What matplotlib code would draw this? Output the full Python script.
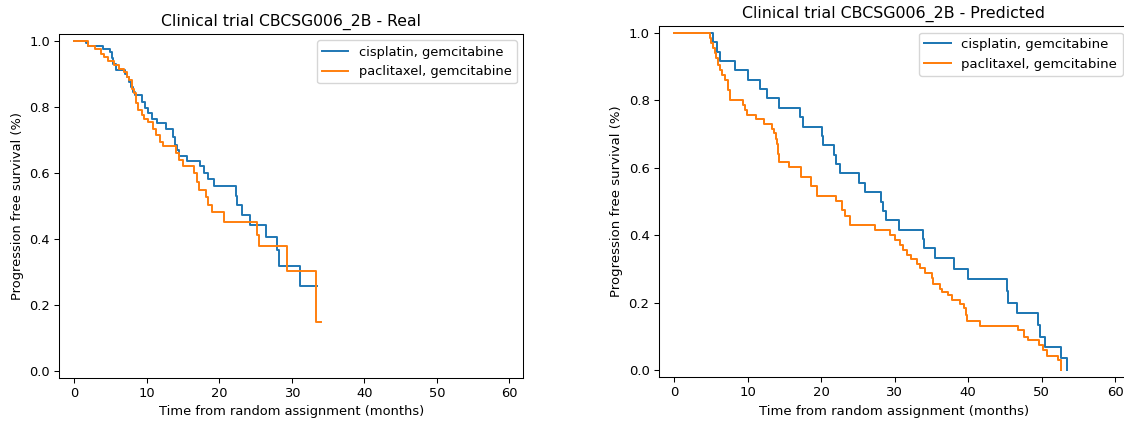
import matplotlib
matplotlib.use("Agg")
import matplotlib.pyplot as plt

# ---- data ----
labels = ["cisplatin, gemcitabine", "paclitaxel, gemcitabine"]
titles = ["Clinical trial CBCSG006_2B - Real", "Clinical trial CBCSG006_2B - Predicted"]
xticks = [0, 10, 20, 30, 40, 50, 60]
yticks = [0.0, 0.2, 0.4, 0.6, 0.8, 1.0]

real_cis_t = [0, 1.6, 1.9, 4.0, 4.9, 5.2, 5.4, 5.8, 7.0, 7.3, 7.6, 7.8, 8.1, 8.4, 9.3, 9.75,
              10.2, 10.7, 11.4, 12.7, 13.65, 13.9, 14.1, 14.5, 15.5, 17.3, 17.9, 18.4, 19.2,
              22.3, 22.45, 23.1, 24.2, 26.5, 27.9, 28.3, 31.1, 33.5]
real_cis_s = [1.0, 0.992, 0.985, 0.976, 0.966, 0.946, 0.93, 0.912, 0.9, 0.89, 0.875, 0.86, 0.845,
              0.835, 0.815, 0.795, 0.78, 0.764, 0.751, 0.734, 0.709, 0.684, 0.669, 0.65, 0.636,
              0.62, 0.60, 0.58, 0.56, 0.53, 0.502, 0.472, 0.442, 0.405, 0.366, 0.318, 0.256, 0.256]

real_pac_t = [0, 1.9, 2.9, 3.7, 4.15, 4.6, 5.5, 6.1, 6.9, 7.2, 7.5, 8.0, 8.2, 8.5, 8.85, 9.35,
              9.6, 10.2, 10.8, 11.3, 11.8, 12.3, 14.0, 14.5, 15.0, 16.5, 16.9, 17.25, 18.2, 18.5,
              19.0, 20.6, 25.2, 25.45, 29.4, 33.3, 34.0]
real_pac_s = [1.0, 0.985, 0.976, 0.96, 0.949, 0.937, 0.925, 0.915, 0.905, 0.89, 0.88, 0.855, 0.84,
              0.81, 0.79, 0.774, 0.764, 0.754, 0.734, 0.714, 0.694, 0.681, 0.661, 0.638, 0.621,
              0.598, 0.573, 0.548, 0.528, 0.503, 0.482, 0.452, 0.412, 0.379, 0.304, 0.15, 0.15]

pred_cis_t = [0, 5.3, 5.8, 6.25, 8.3, 10.1, 11.7, 12.6, 14.35, 17.1, 17.5, 20.1, 20.3, 21.7,
              22.1, 22.6, 25.2, 25.95, 28.2, 28.4, 28.9, 30.55, 33.9, 34.0, 35.5, 38.1, 40.0,
              45.3, 45.5, 46.6, 49.5, 49.8, 50.5, 52.7, 53.5]
pred_cis_s = [1.0, 0.972, 0.944, 0.917, 0.889, 0.861, 0.833, 0.806, 0.778, 0.75, 0.722, 0.694,
              0.667, 0.639, 0.611, 0.583, 0.556, 0.528, 0.5, 0.472, 0.444, 0.417, 0.389, 0.361,
              0.334, 0.301, 0.269, 0.236, 0.2, 0.17, 0.135, 0.1, 0.069, 0.035, 0.0]

pred_pac_t = [0, 4.9, 5.1, 5.3, 5.6, 5.75, 6.0, 6.3, 6.5, 7.0, 7.3, 7.4, 7.6, 9.4, 9.7, 9.9,
              11.1, 12.2, 13.3, 13.6, 13.9, 14.0, 14.1, 14.2, 14.3, 15.7, 17.3, 18.7, 19.4,
              22.1, 22.8, 23.2, 23.9, 27.3, 29.4, 30.1, 30.7, 31.2, 31.7, 32.3, 33.0, 33.5,
              34.1, 35.1, 35.3, 36.2, 36.4, 37.3, 37.8, 38.9, 39.4, 39.7, 39.9, 41.6, 46.8,
              47.6, 48.2, 49.7, 50.2, 50.7, 52.3, 52.7]
pred_pac_s = [1.0, 0.985, 0.97, 0.955, 0.94, 0.925, 0.905, 0.89, 0.875, 0.86, 0.845, 0.83,
              0.801, 0.786, 0.771, 0.757, 0.744, 0.731, 0.716, 0.702, 0.686, 0.67, 0.655, 0.64,
              0.616, 0.601, 0.573, 0.545, 0.516, 0.502, 0.474, 0.456, 0.43, 0.417, 0.4, 0.385,
              0.37, 0.356, 0.341, 0.331, 0.316, 0.302, 0.287, 0.272, 0.257, 0.242, 0.232, 0.222,
              0.207, 0.195, 0.183, 0.163, 0.146, 0.13, 0.119, 0.1, 0.089, 0.075, 0.059, 0.042,
              0.03, 0.0]

panels = [
    (titles[0], [(real_cis_t, real_cis_s), (real_pac_t, real_pac_s)]),
    (titles[1], [(pred_cis_t, pred_cis_s), (pred_pac_t, pred_pac_s)]),
]

W, H = 1124, 421
fig = plt.figure(figsize=(W / 100, H / 100), dpi=100)
# axes rectangles in pixels: left, bottom(from top), right, top
rects = [(59.3, 377.7, 523.3, 34.0), (658.8, 377.0, 1129.2, 26.0)]
scales = [0.935, 0.952]
colors = ["tab:blue", "tab:orange"]

for (title, series), (l, b, r, t), k in zip(panels, rects, scales):
    ax = fig.add_axes([l / W, (H - b) / H, (r - l) / W, (b - t) / H])
    for (tt, ss), lab, c in zip(series, labels, colors):
        ax.step(tt, ss, where="post", color=c, label=lab, lw=1.5 * k)
    ax.set_xlim(-2.07, 61.93)
    ax.set_ylim(-0.02, 1.02)
    ax.set_xticks(xticks)
    ax.set_yticks(yticks)
    ax.set_title(title, fontsize=12 * k, pad=6 * k)
    ax.set_xlabel("Time from random assignment (months)", fontsize=10 * k, labelpad=4 * k)
    ax.set_ylabel("Progression free survival (%)", fontsize=10 * k, labelpad=4 * k)
    ax.tick_params(labelsize=10 * k, length=3.5 * k, width=0.8 * k, pad=3.5 * k)
    for sp in ax.spines.values():
        sp.set_linewidth(0.8 * k)
    ax.legend(loc="upper right", fontsize=10 * k)

fig.savefig("out.png", dpi=100)
